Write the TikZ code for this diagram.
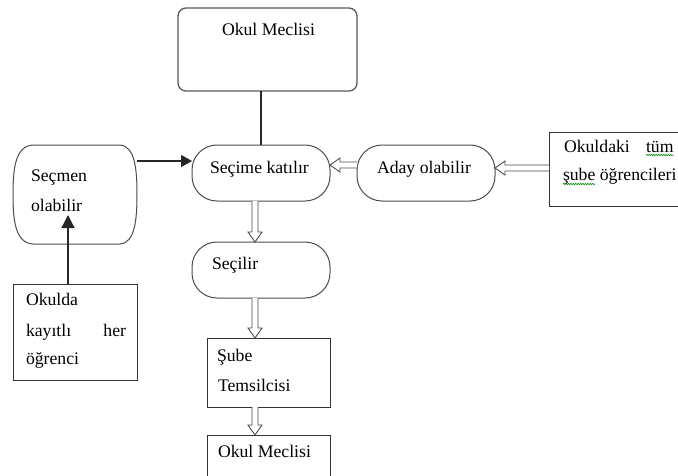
\documentclass[tikz,border=0pt]{standalone}
\usepackage{fontspec}
\setmainfont{Liberation Serif}
\usetikzlibrary{calc,arrows.meta,decorations.pathmorphing}

% hollow block arrow pointing down, from #1 to the tip #2
\newcommand\hollowdown[2]{%
  \draw[hollow] ($(#1)+(-3,0)$) -- ($(#2)+(-3,-10)$) -- ($(#2)+(-7,-10)$) -- (#2)
    -- ($(#2)+(7,-10)$) -- ($(#2)+(3,-10)$) -- ($(#1)+(3,0)$);}
% hollow block arrow pointing left, from #1 to the tip #2
\newcommand\hollowleft[2]{%
  \draw[hollow] ($(#1)+(0,-3)$) -- ($(#2)+(10,-3)$) -- ($(#2)+(10,-7)$) -- (#2)
    -- ($(#2)+(10,7)$) -- ($(#2)+(10,3)$) -- ($(#1)+(0,3)$);}

\tikzset{
  box/.style={draw=black!80, line width=1pt, inner sep=0pt, outer sep=0pt},
  pill/.style={box, draw=black!70, rounded corners=25pt},
  txt/.style={font=\fontsize{17.7pt}{21pt}\selectfont, inner sep=0pt, outer sep=0pt, anchor=base west},
  hollow/.style={draw=black!70, line width=0.9pt, fill=white, line join=miter},
  link/.style={draw=black!85, line width=1.3pt},
  spell/.style={draw=green!55!black, line width=0.6pt, decorate,
    decoration={snake, amplitude=0.7pt, segment length=2.4pt}}
}

\begin{document}
\begin{tikzpicture}[x=1pt, y=-1pt]
  \useasboundingbox (0,0) rectangle (678,475);
  \fill[white] (0,0) rectangle (678,475);
  \clip (0,0) rectangle (678,475);

  % boxes
  \node[box, draw=black!65, line width=1.3pt, rounded corners=8pt,
        minimum width=179pt, minimum height=83pt] (meclis) at (267.5,49.5) {};
  \node[pill, minimum width=138pt, minimum height=56pt] (secime) at (261,173) {};
  \node[pill, minimum width=138pt, minimum height=56pt] (aday) at (426,173) {};
  \node[box, minimum width=151pt, minimum height=74pt] (tumsube) at (624.5,169) {};
  \node[inner sep=0pt, outer sep=0pt, minimum width=124pt, minimum height=99pt] (secmen) at (75,194.5) {};
  \node[box, minimum width=124pt, minimum height=96pt] (okulda) at (75,332) {};
  \node[pill, minimum width=138pt, minimum height=56pt] (secilir) at (261,270) {};
  \node[box, minimum width=123pt, minimum height=69pt] (temsil) at (268.5,372.5) {};
  \node[box, minimum width=123pt, minimum height=65pt] (meclisb) at (268.5,467.5) {};

  % bulging outline of the voter box
  \draw[draw=black!70, line width=1pt]
    ($(secmen.north west)+(20,0)$) -- ($(secmen.north east)+(-17,0)$)
    .. controls ($(secmen.north east)+(-2,1)$) and ($(secmen.east)+(0,-25)$) .. (secmen.east)
    .. controls ($(secmen.east)+(0,25)$) and ($(secmen.south east)+(-2,-1)$) .. ($(secmen.south east)+(-17,0)$)
    -- ($(secmen.south west)+(20,0)$)
    .. controls ($(secmen.south west)+(2,-1)$) and ($(secmen.west)+(0,25)$) .. (secmen.west)
    .. controls ($(secmen.west)+(0,-25)$) and ($(secmen.north west)+(2,1)$) .. ($(secmen.north west)+(20,0)$) -- cycle;

  % texts
  \node[txt] (t1) at (222,35) {Okul Meclisi};
  \node[txt] (t2) at (210,173) {Seçime katılır};
  \node[txt] (t3) at (377,173) {Aday olabilir};
  \node[txt] (t4a) at (564,152) {Okuldaki};
  \node[txt] (t4b) at (646,152) {tüm};
  \node[txt] (t4c) at (563,180) {şube};
  \node[txt] (t4d) at ($(t4c.base east)+(4.4,0)$) {öğrencileri};
  \node[txt] (t5a) at (31,181) {Seçmen};
  \node[txt] (t5b) at (31,211) {olabilir};
  \node[txt] (t6a) at (26,305) {Okulda};
  \node[txt] (t6b) at (26,336) {kayıtlı};
  \node[txt, anchor=base east] (t6c) at (126,336) {her};
  \node[txt] (t6d) at (26,364) {öğrenci};
  \node[txt] (t7) at (212,269) {Seçilir};
  \node[txt] (t8a) at (217,361) {Şube};
  \node[txt] (t8b) at (218,391) {Temsilcisi};
  \node[txt] (t9) at (218,457) {Okul Meclisi};

  % spell-check underlines
  \draw[spell] ($(t4b.base west)+(0,3)$) -- ($(t4b.base east)+(0,3)$);
  \draw[spell] ($(t4c.base west)+(0,4)$) -- ($(t4c.base east)+(0,4)$);

  % helper coordinates for rows and columns
  \coordinate (row0) at (0,161);
  \coordinate (row1) at (0,165);
  \coordinate (row2) at (0,168);
  \coordinate (col0) at (68,0);
  \coordinate (col1) at (255,0);
  \coordinate (col2) at (261,0);
  \coordinate (voterTip) at (68,215);

  % plain connectors
  \draw[link] (col2 |- meclis.south) -- (col2 |- secime.north);
  \draw[link, -{Triangle[length=11pt, width=12pt]}] (secmen.east |- row0) -- (secime.west |- row0);
  \draw[link, -{Triangle[length=13pt, width=13pt]}] (col0 |- okulda.north) -- (voterTip);

  % hollow block arrows
  \coordinate (a1s) at (aday.west |- row1);
  \coordinate (a1e) at (secime.east |- row1);
  \hollowleft{a1s}{a1e}
  \coordinate (a2s) at (tumsube.west |- row2);
  \coordinate (a2e) at (aday.east |- row2);
  \hollowleft{a2s}{a2e}
  \coordinate (d1s) at (col1 |- secime.south);
  \coordinate (d1e) at (col1 |- secilir.north);
  \hollowdown{d1s}{d1e}
  \coordinate (d2s) at (col1 |- secilir.south);
  \coordinate (d2e) at (col1 |- temsil.north);
  \hollowdown{d2s}{d2e}
  \coordinate (d3s) at (col1 |- temsil.south);
  \coordinate (d3e) at (col1 |- meclisb.north);
  \hollowdown{d3s}{d3e}
\end{tikzpicture}
\end{document}
